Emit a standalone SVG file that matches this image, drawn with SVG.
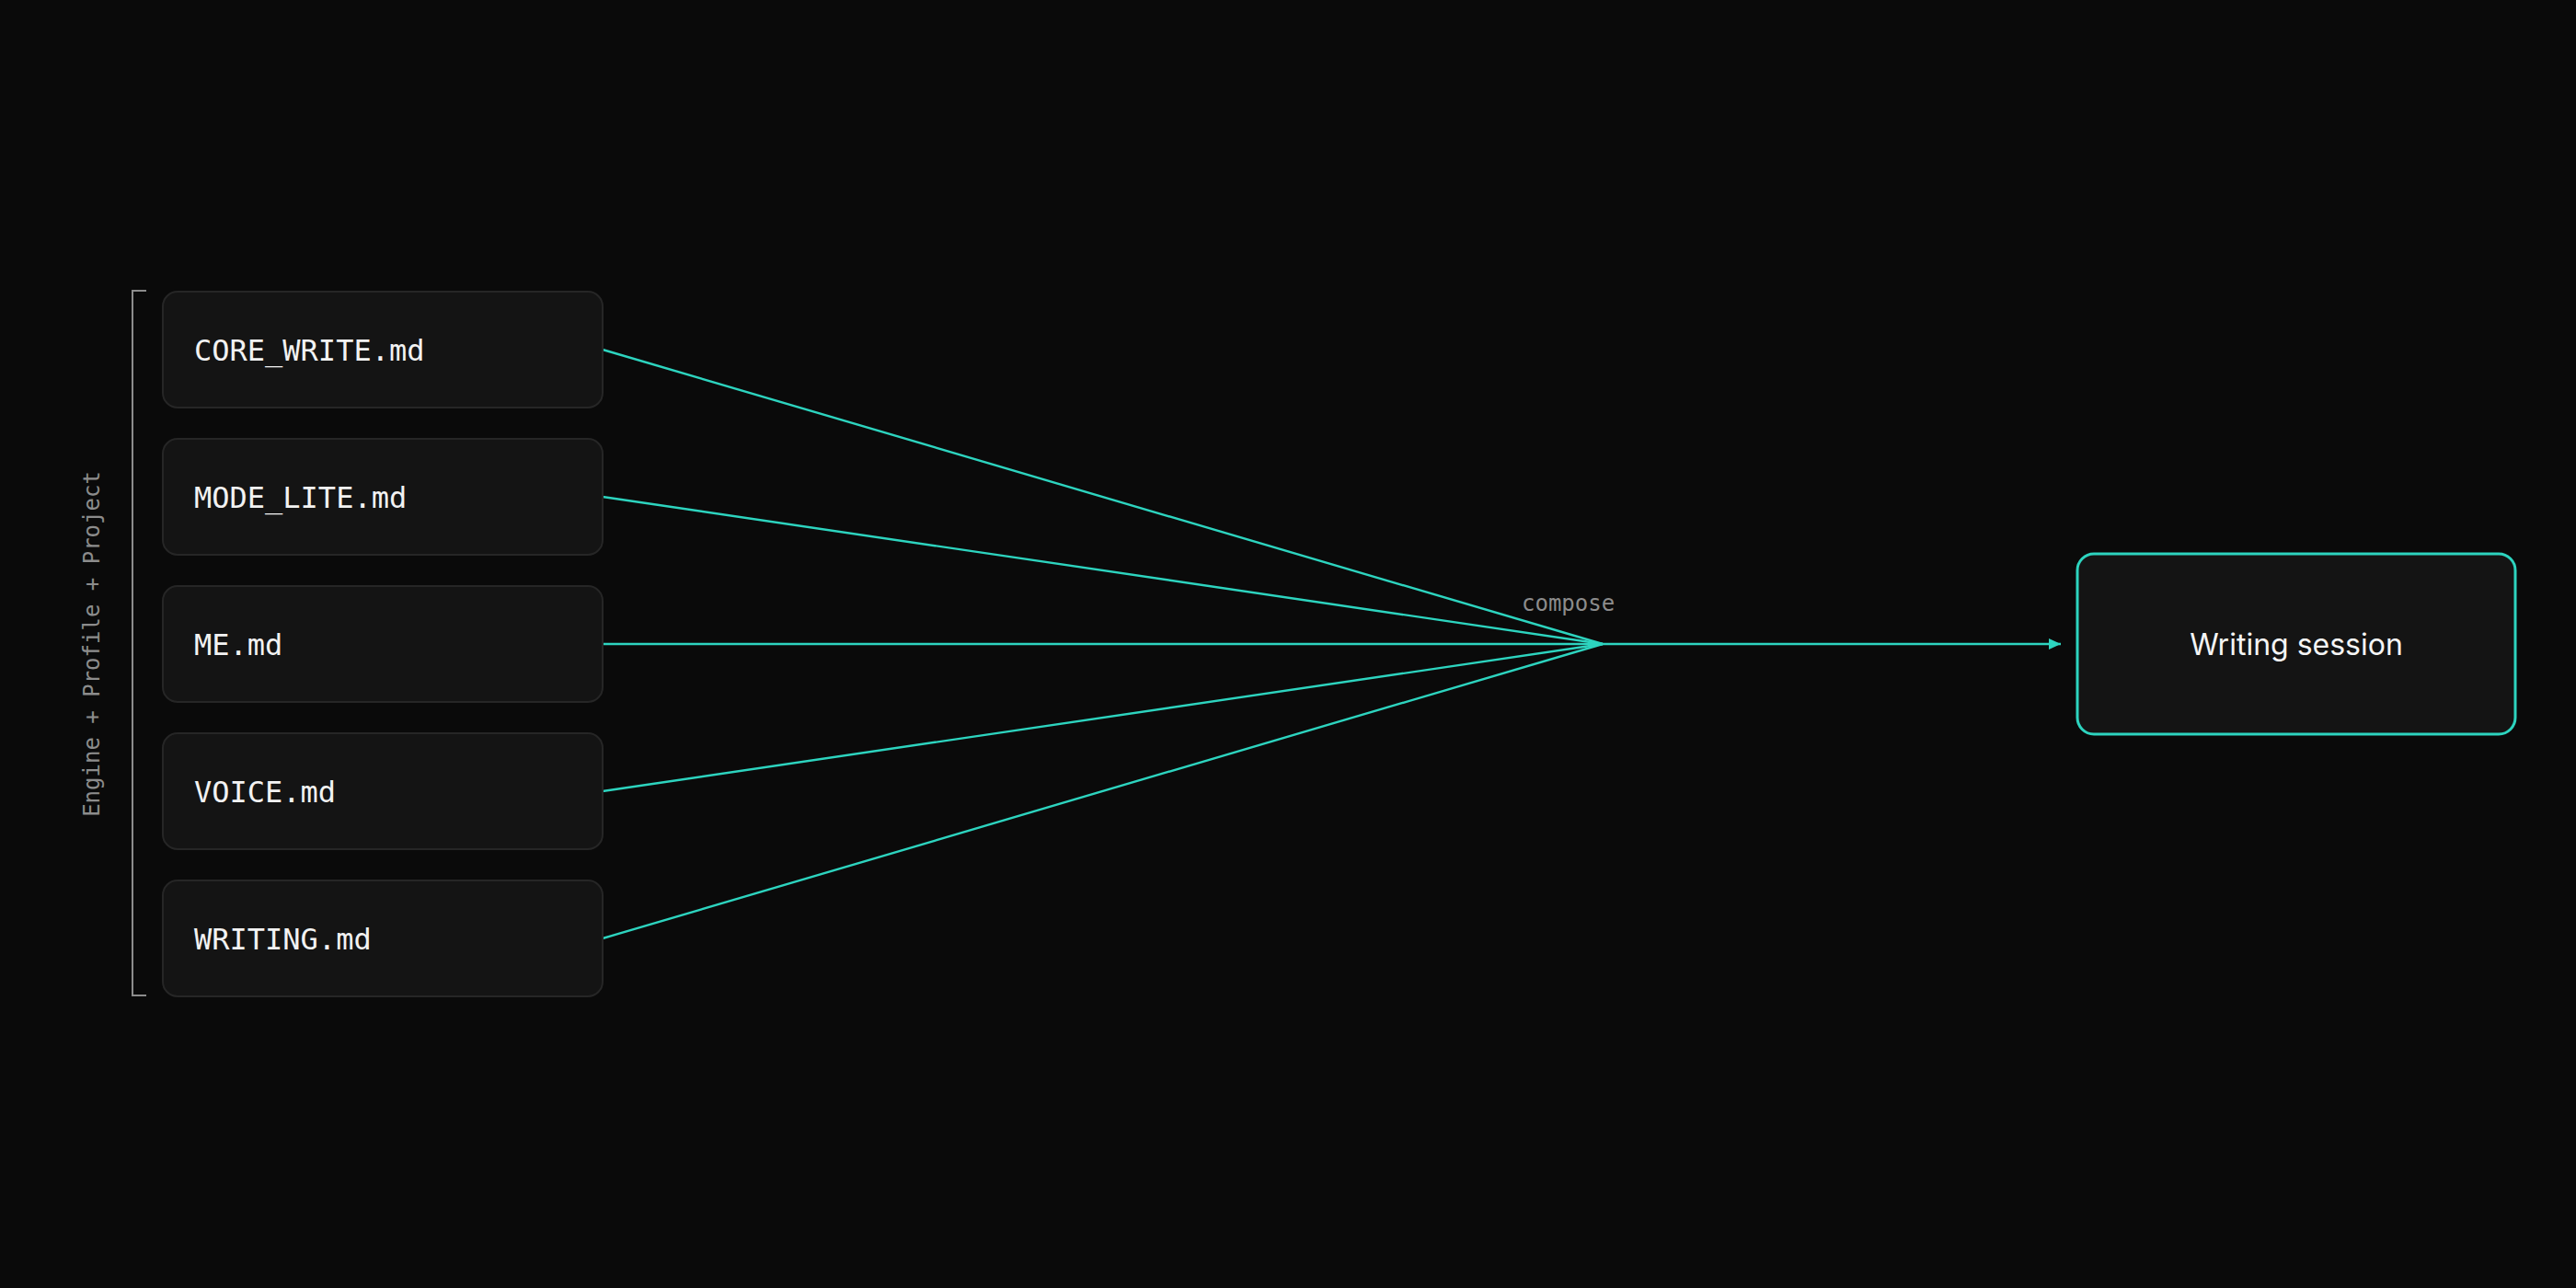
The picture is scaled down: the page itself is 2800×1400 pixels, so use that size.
<svg xmlns="http://www.w3.org/2000/svg" width="2800" height="1400" viewBox="0 0 2800 1400">
<style>
.src rect{fill:#141414;stroke:#262626;stroke-width:2}
.src text{font-family:"DejaVu Sans Mono","Liberation Mono",monospace;font-size:32px;fill:#f2f2f2}
.edge{stroke:#2dd4bf;stroke-width:2.4;fill:none}
.lbl{font-family:"DejaVu Sans Mono","Liberation Mono",monospace;font-size:24px;fill:#8c8c8c}
</style>
<defs>
<marker id="arr" viewBox="0 0 13 13" refX="13" refY="6.5" markerWidth="13" markerHeight="13" markerUnits="userSpaceOnUse" orient="auto">
<path d="M0,0.5 L13,6.5 L0,12.5 Z" fill="#2dd4bf"/>
</marker>
</defs>
<rect x="0" y="0" width="2800" height="1400" fill="#0a0a0a"/>
<g id="bracket">
<path d="M159,316 H144 V1082 H159" fill="none" stroke="#8c8c8c" stroke-width="2"/>
<text class="lbl" transform="translate(108,700) rotate(-90)" text-anchor="middle">Engine + Profile + Project</text>
</g>
<g id="connectors">
<line class="edge" x1="655" y1="380" x2="1742" y2="700"/>
<line class="edge" x1="655" y1="540" x2="1742" y2="700"/>
<line class="edge" x1="655" y1="700" x2="1742" y2="700"/>
<line class="edge" x1="655" y1="860" x2="1742" y2="700"/>
<line class="edge" x1="655" y1="1020" x2="1742" y2="700"/>
<line class="edge" x1="1742" y1="700" x2="2240" y2="700" marker-end="url(#arr)"/>
<text class="lbl" x="1654" y="664">compose</text>
</g>
<g id="core_write" class="src"><rect x="177" y="317" width="478" height="126" rx="16"/><text x="211" y="392">CORE_WRITE.md</text></g>
<g id="mode_lite" class="src"><rect x="177" y="477" width="478" height="126" rx="16"/><text x="211" y="552">MODE_LITE.md</text></g>
<g id="me" class="src"><rect x="177" y="637" width="478" height="126" rx="16"/><text x="211" y="712">ME.md</text></g>
<g id="voice" class="src"><rect x="177" y="797" width="478" height="126" rx="16"/><text x="211" y="872">VOICE.md</text></g>
<g id="writing" class="src"><rect x="177" y="957" width="478" height="126" rx="16"/><text x="211" y="1032">WRITING.md</text></g>
<g id="session">
<rect x="2258" y="602" width="476" height="196" rx="18" fill="#141414" stroke="#2dd4bf" stroke-width="3"/>
<text x="2496" y="712" text-anchor="middle" font-family="Inter,'Liberation Sans',sans-serif" font-size="32" fill="#f5f5f5">Writing session</text>
</g>
</svg>
